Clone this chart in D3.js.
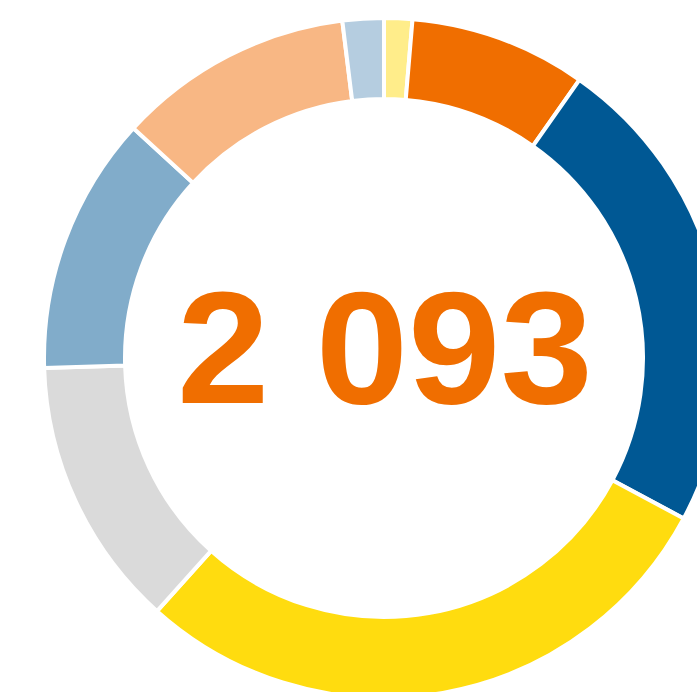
<!DOCTYPE html>
<html>
<head>
<meta charset="utf-8">
<script src="https://cdn.jsdelivr.net/npm/d3@7"></script>
<style>
  html, body { margin: 0; padding: 0; background: #fff; }
  svg { display: block; }
</style>
</head>
<body>
<div id="chart"></div>
<script>
// segments, clockwise from 12 o'clock
const categories = ["A", "B", "C", "D", "E", "F", "G", "H"];
const values = [28, 176, 483, 603, 270, 257, 235, 41];
const colors = ["#FFED8A", "#F06E00", "#005894", "#FFDC0F", "#DADADA", "#81ACCA", "#F8B784", "#B5CDE0"];

const width = 697, height = 692;
const cx = 384, cy = 358;
const outerR = 340, innerR = 259;

const data = categories.map((c, i) => ({name: c, value: values[i], color: colors[i]}));

const svg = d3.select("#chart").append("svg")
    .attr("width", width)
    .attr("height", height);

const g = svg.append("g")
    .attr("transform", "translate(" + cx + "," + cy + ")");

const pie = d3.pie()
    .value(d => d.value)
    .sort(null);

const arc = d3.arc()
    .innerRadius(innerR)
    .outerRadius(outerR);

g.selectAll(".slice")
    .data(pie(data))
    .enter().append("path")
    .attr("class", "slice")
    .attr("d", arc)
    .attr("fill", d => d.data.color)
    .attr("stroke", "#fff")
    .attr("stroke-width", 4);

const fmt = d3.formatLocale({decimal: ",", thousands: " ", grouping: [3], currency: ["", ""]}).format(",d");

// total in the middle, slightly widened to match the wider Helvetica digits
g.append("text")
    .attr("transform", "translate(1,45) scale(1.045,1)")
    .attr("text-anchor", "middle")
    .style("font-family", "'Liberation Sans', Arial, Helvetica, sans-serif")
    .style("font-weight", "bold")
    .style("font-size", "159px")
    .attr("fill", "#F06E00")
    .text(fmt(d3.sum(values)));
</script>
</body>
</html>
